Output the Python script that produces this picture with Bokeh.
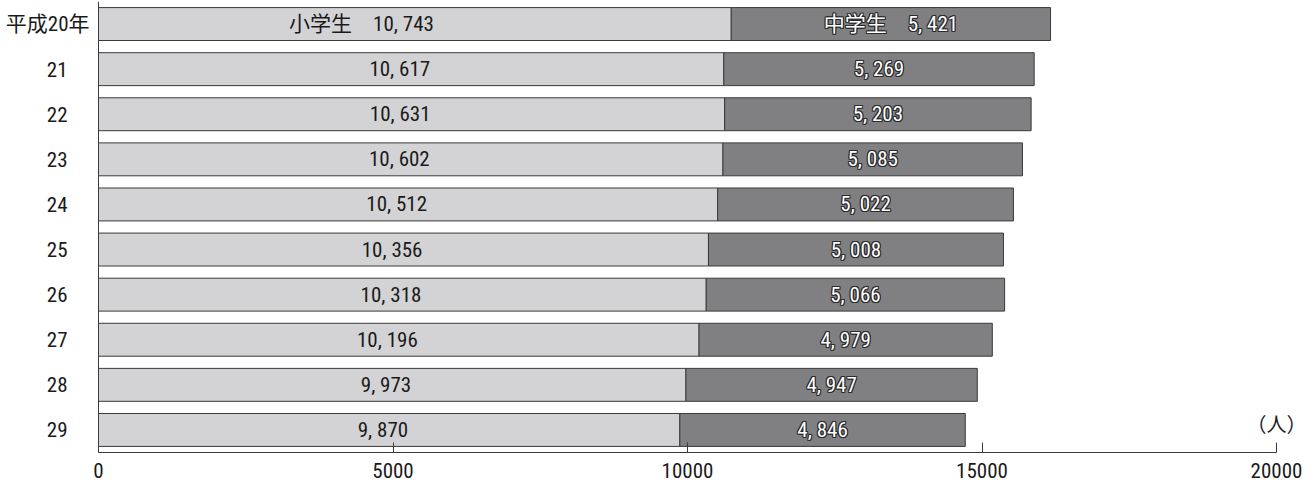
from bokeh.plotting import figure
from bokeh.models import ColumnDataSource, FactorRange, Range1d, FixedTicker, Label, Span
from bokeh.core.properties import value
from bokeh.embed import file_html
from bokeh.resources import INLINE

# ---- data ----
years = ["平成20年", "21", "22", "23", "24", "25", "26", "27", "28", "29"]
elementary = [10743, 10617, 10631, 10602, 10512, 10356, 10318, 10196, 9973, 9870]
junior_high = [5421, 5269, 5203, 5085, 5022, 5008, 5066, 4979, 4947, 4846]
series_names = ["小学生", "中学生"]
x_ticks = [0, 5000, 10000, 15000, 20000]
unit_label = "（人）"

FONT = "'Roboto Condensed', 'Noto Sans CJK JP'"
LIGHT = "#d3d3d5"
DARK = "#808083"
EDGE = "#3a3a3a"
TXT = "#1a1a1a"


def fmt(v):
    return f"{v:,}".replace(",", ", ")


el_labels = [fmt(v) for v in elementary]
jh_labels = [fmt(v) for v in junior_high]
el_labels[0] = series_names[0] + "\u3000" + el_labels[0]
jh_labels[0] = series_names[1] + "\u3000" + jh_labels[0]

src = ColumnDataSource(dict(
    year=years,
    el_left=[0] * len(years),
    el_right=elementary,
    jh_left=elementary,
    jh_right=[a + b for a, b in zip(elementary, junior_high)],
    el_mid=[a / 2 for a in elementary],
    jh_mid=[a + b / 2 for a, b in zip(elementary, junior_high)],
    el_label=el_labels,
    jh_label=jh_labels,
))
first_src = ColumnDataSource(dict(year=years[:1], zero=[0]))
rest_src = ColumnDataSource(dict(year=years[1:], zero=[0] * (len(years) - 1)))

W = 1314
# frame spans the whole canvas width; value axis: 0 at 98 px, 20000 at 1276 px
PX_PER_UNIT = (1276 - 98) / 20000
X_START = -98 / PX_PER_UNIT
X_END = (W - 98) / PX_PER_UNIT

p = figure(
    width=W, height=484,
    y_range=FactorRange(factors=list(reversed(years)), range_padding=0),
    x_range=Range1d(X_START, X_END),
    y_axis_location=None,
    output_backend="svg", toolbar_location=None,
    min_border_left=0, min_border_right=0, min_border_top=1, min_border_bottom=32,
)

p.hbar(y="year", left="el_left", right="el_right", height=0.73, source=src,
       fill_color=LIGHT, line_color=EDGE, line_width=1)
p.hbar(y="year", left="jh_left", right="jh_right", height=0.73, source=src,
       fill_color=DARK, line_color=EDGE, line_width=1)

# value axis line at 0 (vertical)
p.add_layout(Span(location=0, dimension="height", line_color=EDGE, line_width=1))

# category labels
p.text(x="zero", y="year", text="year", source=first_src,
       text_align="right", text_baseline="middle", x_offset=-9,
       text_font=value(FONT), text_font_size="21px", text_color=TXT)
p.text(x="zero", y="year", text="year", source=rest_src,
       text_align="right", text_baseline="middle", x_offset=-31,
       text_font=value(FONT), text_font_size="21px", text_color=TXT)

# segment labels
p.text(x="el_mid", y="year", text="el_label", source=src,
       text_align="right", text_baseline="middle", x_offset=19,
       text_font=value(FONT), text_font_size="21px", text_color=TXT)
for dx, dy in [(-1, 0), (1, 0), (0, -1), (0, 1), (-1, -1), (1, 1), (-1, 1), (1, -1)]:
    p.text(x="jh_mid", y="year", text="jh_label", source=src,
           text_align="center", text_baseline="middle", x_offset=dx, y_offset=dy,
           text_font=value(FONT), text_font_size="21px", text_color="#2a2a2a")
p.text(x="jh_mid", y="year", text="jh_label", source=src,
       text_align="center", text_baseline="middle",
       text_font=value(FONT), text_font_size="21px", text_color="#ffffff")

p.add_layout(Label(x=20000, y=0.6, text=unit_label, text_align="center",
                   text_baseline="middle", text_font=FONT,
                   text_font_size="20px", text_color=TXT))

# x axis
p.xaxis.ticker = FixedTicker(ticks=x_ticks)
p.xaxis.bounds = (0, 20000)
p.xaxis.major_tick_in = 10
p.xaxis.major_tick_out = 0
p.xaxis.minor_tick_line_color = None
p.xaxis.axis_line_color = EDGE
p.xaxis.major_tick_line_color = EDGE
p.xaxis.major_label_text_font = FONT
p.xaxis.major_label_text_font_size = "21px"
p.xaxis.major_label_text_color = TXT
p.xaxis.major_label_standoff = 10

p.xgrid.grid_line_color = None
p.ygrid.grid_line_color = None
p.outline_line_color = None

open("out.html", "w").write(file_html(p, INLINE))
